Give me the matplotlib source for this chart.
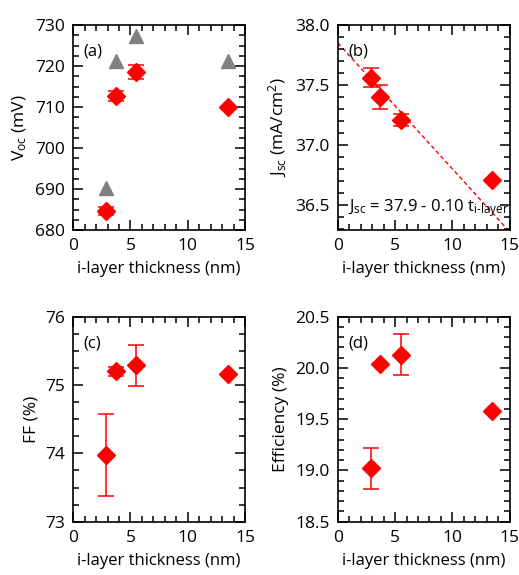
import matplotlib
matplotlib.use("Agg")
import matplotlib.pyplot as plt
from matplotlib.ticker import MultipleLocator

plt.rcParams['font.family'] = ['Open Sans', 'DejaVu Sans']
plt.rcParams['font.size'] = 12
plt.rcParams['mathtext.fontset'] = 'custom'
plt.rcParams['mathtext.rm'] = 'Open Sans'
plt.rcParams['mathtext.it'] = 'Open Sans'

# i-layer thickness (nm)
thickness = [2.9, 3.7, 5.5, 13.5]

# (a) Voc, mV
voc = [684.7, 712.7, 718.6, 709.9]
voc_err = [1.0, 1.3, 1.7, 0.0]
voc_ref = [690.3, 721.3, 727.2, 721.3]

# (b) Jsc, mA/cm2
jsc = [37.56, 37.40, 37.21, 36.71]
jsc_err = [0.08, 0.10, 0.05, 0.0]
fit_intercept = 37.85
fit_slope = -0.105

# (c) FF, %
ff = [73.98, 75.20, 75.29, 75.16]
ff_err = [0.60, 0.07, 0.30, 0.0]

# (d) efficiency, %
eff = [19.02, 20.04, 20.13, 19.58]
eff_err = [0.20, 0.01, 0.20, 0.0]

red = '#ff0000'
fig = plt.figure(figsize=(5.19, 5.75), dpi=100)


def style_axes(ax, ylim, ymajor, yminor, panel):
    ax.set_xlim(0, 15)
    ax.set_ylim(*ylim)
    ax.xaxis.set_major_locator(MultipleLocator(5))
    ax.xaxis.set_minor_locator(MultipleLocator(1))
    ax.yaxis.set_major_locator(MultipleLocator(ymajor))
    ax.yaxis.set_minor_locator(MultipleLocator(yminor))
    ax.tick_params(which='both', direction='in', top=True, right=True, width=1.1,
                   labelsize=12.5, pad=6)
    ax.tick_params(which='major', length=7)
    ax.tick_params(which='minor', length=4)
    for s in ax.spines.values():
        s.set_linewidth(1.2)
    ax.set_xlabel('i-layer thickness (nm)', fontsize=12, labelpad=5)
    ax.text(0.06, 0.85, panel, transform=ax.transAxes, fontsize=12)


def plot_points(ax, y, yerr):
    ax.errorbar(thickness, y, yerr=yerr, fmt='D', color=red, ms=9.5,
                ecolor=red, elinewidth=1.1, capsize=6, capthick=1.1, zorder=3)


# (a)
ax1 = fig.add_axes([0.141, 0.600, 0.331, 0.3565])
ax1.plot(thickness, voc_ref, '^', color='#808080', ms=10, zorder=2)
plot_points(ax1, voc, voc_err)
style_axes(ax1, (680, 730), 10, 2.5, '(a)')
ax1.set_ylabel('V$_{\\rm oc}$ (mV)', fontsize=12.5)

# (b)
ax2 = fig.add_axes([0.651, 0.600, 0.331, 0.3565])
fit_x = [0, 15]
fit_y = [fit_intercept + fit_slope * x for x in fit_x]
ax2.plot(fit_x, fit_y, '--', color=red, lw=1.0, dashes=(3, 2), zorder=1)
plot_points(ax2, jsc, jsc_err)
style_axes(ax2, (36.29, 38.0), 0.5, 0.1, '(b)')
ax2.yaxis.set_major_formatter(plt.FormatStrFormatter('%.1f'))
ax2.set_ylabel('J$_{\\rm sc}$ (mA/cm$^{2}$)', fontsize=12.5)
ax2.text(0.9, 36.45, 'J$_{\\rm sc}$ = 37.9 - 0.10 t$_{\\rm i\\text{-}layer}$', fontsize=12)

# (c)
ax3 = fig.add_axes([0.141, 0.0927, 0.331, 0.3565])
plot_points(ax3, ff, ff_err)
style_axes(ax3, (73, 76), 1, 0.25, '(c)')
ax3.set_ylabel('FF (%)', fontsize=12.5)

# (d)
ax4 = fig.add_axes([0.651, 0.0927, 0.331, 0.3565])
plot_points(ax4, eff, eff_err)
style_axes(ax4, (18.5, 20.5), 0.5, 0.1, '(d)')
ax4.yaxis.set_major_formatter(plt.FormatStrFormatter('%.1f'))
ax4.set_ylabel('Efficiency (%)', fontsize=12.5)

fig.savefig('out.png', dpi=100)
